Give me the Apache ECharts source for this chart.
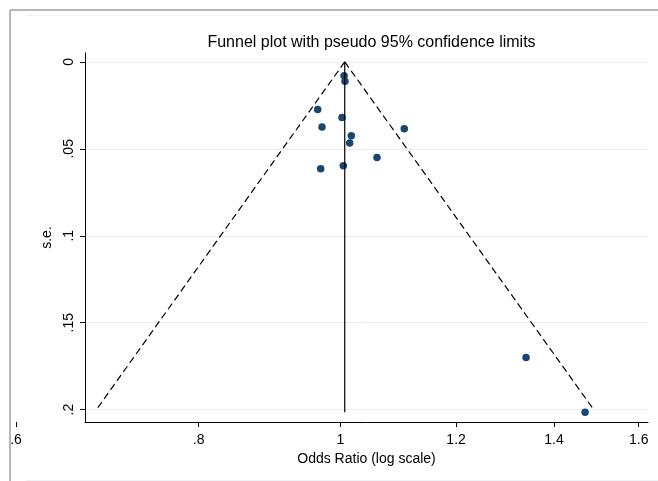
<!DOCTYPE html>
<html>
<head>
<meta charset="utf-8">
<script src="https://cdn.jsdelivr.net/npm/echarts@6/dist/echarts.min.js"></script>
<style>html,body{margin:0;padding:0;background:#fff}#c{width:658px;height:481px}</style>
</head>
<body>
<div id="c"></div>
<script>
// Study estimates: odds ratio and standard error
var studyOR = [1.006, 1.0074, 0.965, 1.0027, 0.9716, 1.106, 1.0175, 1.0149, 1.0595, 1.0047, 0.9696, 1.3398, 1.4703];
var studySE = [0.0080, 0.0112, 0.0274, 0.0320, 0.0375, 0.0385, 0.0425, 0.0467, 0.0550, 0.0598, 0.0614, 0.1700, 0.2015];
// Pooled estimate and pseudo 95% limits
var pooledOR = 1.007;
var pooledSE = [0, 0.2015];
var limitSE = [0, 0.2];
var lowerOR = [1.007, 0.681];
var upperOR = [1.007, 1.4905];
// Axis ticks
var xTicks = [0.6, 0.8, 1, 1.2, 1.4, 1.6];
var xTickLabels = ['.6', '.8', '1', '1.2', '1.4', '1.6'];
var yTicks = [0, 0.05, 0.1, 0.15, 0.2];
var yTickLabels = ['0', '.05', '.1', '.15', '.2'];

var xMinLn = -0.4021, xMaxLn = 0.4846;
var yMin = -0.0051, yMax = 0.2071;
var FONT = '"Liberation Sans", Arial, sans-serif';

// grid geometry (pixels)
var gLeft = 85, gRight = 10, gTop = 53, gBottom = 59;
var pxPerLn = (658 - gLeft - gRight) / (xMaxLn - xMinLn);
var outerMin = -0.52;
var outerLeft = gLeft - (xMinLn - outerMin) * pxPerLn;

function fmtX(v) {
  var best = 0, d = 1e9;
  for (var i = 0; i < xTicks.length; i++) {
    var dd = Math.abs(Math.log(xTicks[i]) - v);
    if (dd < d) { d = dd; best = i; }
  }
  return xTickLabels[best];
}
function fmtY(v) {
  var best = 0, d = 1e9;
  for (var i = 0; i < yTicks.length; i++) {
    var dd = Math.abs(yTicks[i] - v);
    if (dd < d) { d = dd; best = i; }
  }
  return yTickLabels[best];
}
var mainTicksLn = xTicks.map(Math.log).filter(function (v) { return v >= xMinLn && v <= xMaxLn; });
var outerTicksLn = xTicks.map(Math.log).filter(function (v) { return v < xMinLn; });

var scatterData = studyOR.map(function (o, i) { return [Math.log(o), studySE[i]]; });
var vertData = pooledSE.map(function (s) { return [Math.log(pooledOR), s]; });
var lowerData = limitSE.map(function (s, i) { return [Math.log(lowerOR[i]), s]; });
var upperData = limitSE.map(function (s, i) { return [Math.log(upperOR[i]), s]; });

var chart = echarts.init(document.getElementById('c'), null, { renderer: 'canvas' });
chart.setOption({
  animation: false,
  backgroundColor: '#ffffff',
  textStyle: { fontFamily: FONT },
  title: {
    text: 'Funnel plot with pseudo 95% confidence limits',
    left: 366.5, textAlign: 'center', top: 30,
    textStyle: { fontFamily: FONT, fontSize: 16, fontWeight: 'normal', color: '#000' }
  },
  graphic: [
    { type: 'line', shape: { x1: 10, y1: 10, x2: 658, y2: 10 }, style: { stroke: '#b8b8b8', lineWidth: 2 }, silent: true },
    { type: 'line', shape: { x1: 10, y1: 10, x2: 10, y2: 481 }, style: { stroke: '#b8b8b8', lineWidth: 2 }, silent: true },
    { type: 'line', shape: { x1: 26, y1: 15.5, x2: 658, y2: 15.5 }, style: { stroke: '#eef3f4', lineWidth: 1 }, silent: true },
    { type: 'line', shape: { x1: 26, y1: 480.5, x2: 658, y2: 480.5 }, style: { stroke: '#eef3f4', lineWidth: 1 }, silent: true }
  ],
  grid: [
    { left: gLeft, right: gRight, top: gTop, bottom: gBottom, containLabel: false },
    { left: outerLeft, right: gRight, top: gTop, bottom: gBottom, containLabel: false }
  ],
  xAxis: [
    {
      type: 'value', gridIndex: 0, min: xMinLn, max: xMaxLn, position: 'bottom',
      name: 'Odds Ratio (log scale)', nameLocation: 'middle', nameGap: 21,
      nameTextStyle: { fontFamily: FONT, fontSize: 14, color: '#000' },
      axisLine: { show: true, onZero: false, lineStyle: { color: '#000', width: 1 } },
      axisTick: { show: true, length: 5, customValues: mainTicksLn, lineStyle: { color: '#000', width: 1 } },
      axisLabel: { show: true, customValues: mainTicksLn, formatter: fmtX, fontFamily: FONT, fontSize: 14, color: '#000', margin: 11 },
      splitLine: { show: false }
    },
    {
      type: 'value', gridIndex: 1, min: outerMin, max: xMaxLn, position: 'bottom',
      axisLine: { show: true, onZero: false, lineStyle: { color: 'rgba(0,0,0,0)', width: 1 } },
      axisTick: { show: true, length: 5, customValues: outerTicksLn, lineStyle: { color: '#000', width: 1 } },
      axisLabel: { show: true, customValues: outerTicksLn, formatter: fmtX, fontFamily: FONT, fontSize: 14, color: '#000', margin: 11 },
      splitLine: { show: false }
    }
  ],
  yAxis: [
    {
      type: 'value', gridIndex: 0, inverse: true, min: yMin, max: yMax, position: 'left',
      name: 's.e.', nameLocation: 'middle', nameGap: 22, nameRotate: 90,
      nameTextStyle: { fontFamily: FONT, fontSize: 14, color: '#000' },
      axisLine: { show: true, onZero: false, lineStyle: { color: '#000', width: 1 } },
      axisTick: { show: true, length: 5, customValues: yTicks, lineStyle: { color: '#000', width: 1 } },
      axisLabel: { show: true, customValues: yTicks, formatter: fmtY, rotate: 90, fontFamily: FONT, fontSize: 14, color: '#000', margin: 9 },
      splitLine: { show: true, lineStyle: { color: '#e6eff1', width: 1 } }
    },
    {
      type: 'value', gridIndex: 1, inverse: true, min: yMin, max: yMax, show: false,
      axisLine: { onZero: false }
    }
  ],
  series: [
    {
      type: 'line', xAxisIndex: 0, yAxisIndex: 0, data: lowerData, symbol: 'none',
      lineStyle: { color: '#000', width: 1.2, type: [7, 4] }, silent: true
    },
    {
      type: 'line', xAxisIndex: 0, yAxisIndex: 0, data: upperData, symbol: 'none',
      lineStyle: { color: '#000', width: 1.2, type: [7, 4] }, silent: true
    },
    {
      type: 'line', xAxisIndex: 0, yAxisIndex: 0, data: vertData, symbol: 'none',
      lineStyle: { color: '#000', width: 1.2 }, silent: true
    },
    {
      type: 'scatter', xAxisIndex: 0, yAxisIndex: 0, data: scatterData,
      symbol: 'circle', symbolSize: 7.5,
      itemStyle: { color: '#1a476f', opacity: 1 }
    }
  ]
});
</script>
</body>
</html>
